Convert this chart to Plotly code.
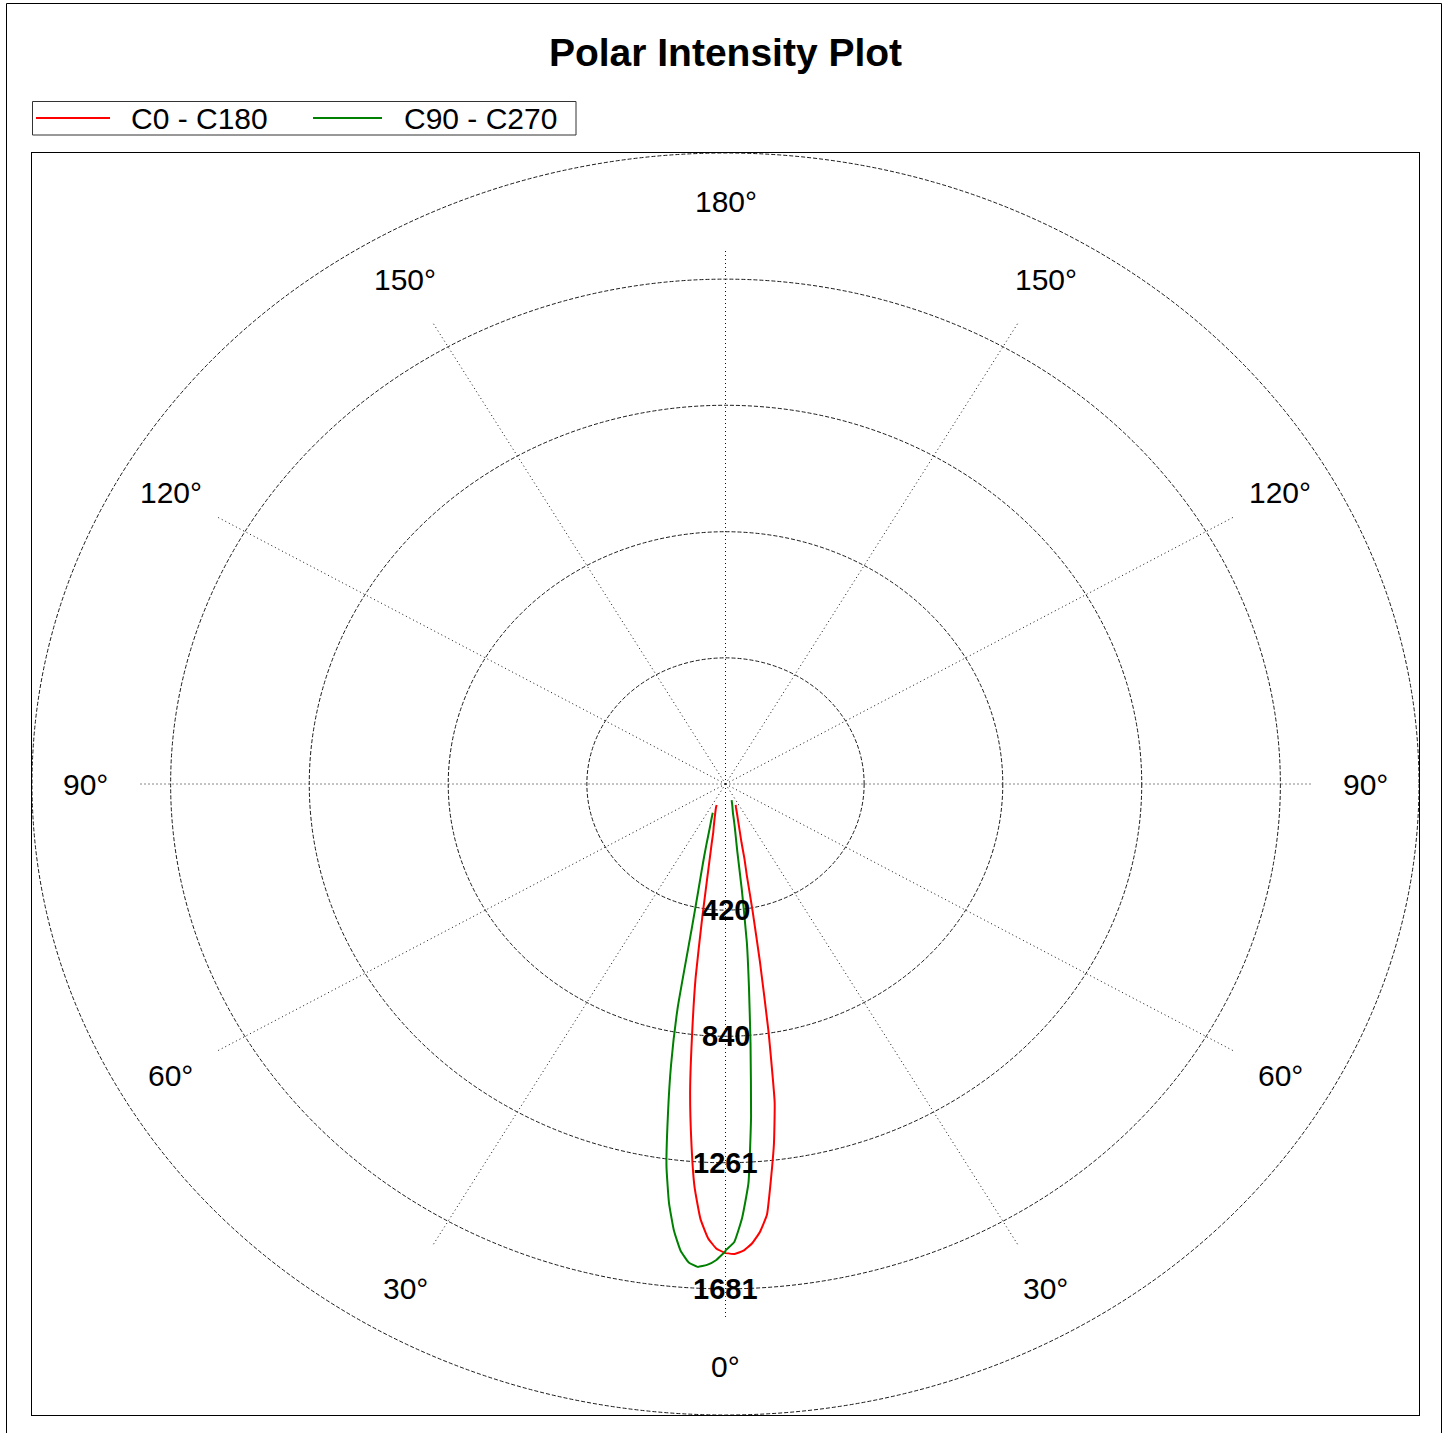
import numpy as np
import plotly.graph_objects as go

# ---------------- data (gamma in degrees, intensity in cd) ----------------
gamma_c0 = [0, 1, 2, 3, 4, 5, 6, 7, 8, 9, 10, 11, 12, 13, 14, 16, 18, 20, 22, 24]
int_c0 = [1562, 1565, 1555, 1532, 1495, 1440, 1320, 1205, 1070, 830, 600, 430, 310, 255, 200, 150, 120, 100, 85, 76]

gamma_c180 = [0, 1, 2, 3, 4, 5, 6, 7, 8, 9, 10, 11, 12, 13, 14, 16, 18, 20, 21]
int_c180 = [1562, 1548, 1513, 1450, 1345, 1190, 1025, 825, 650, 450, 320, 245, 200, 165, 148, 120, 100, 85, 75]

gamma_c90 = [0, 1, 2, 3, 4, 5, 6, 7, 8, 9, 10, 11, 12, 13, 14, 16, 18, 19]
int_c90 = [1553, 1525, 1445, 1330, 1110, 870, 680, 530, 355, 230, 180, 148, 122, 101, 90, 75, 62, 57]

gamma_c270 = [0, 1, 2, 3, 4, 5, 6, 7, 8, 9, 10, 11, 12, 13, 14, 15, 16, 18, 20, 22]
int_c270 = [1555, 1585, 1602, 1610, 1597, 1560, 1495, 1405, 1285, 1115, 950, 760, 490, 370, 300, 250, 210, 155, 125, 103]

ring_values = [420, 840, 1261, 1681, 2101]
ring_labels = ["420", "840", "1261", "1681"]
spoke_angles = [0, 30, 60, 90, 120, 150, 180, 210, 240, 270, 300, 330]
angle_label_values = [0, 30, 60, 90, 120, 150, 180]
angle_label_texts = ["0°", "30°", "60°", "90°", "120°", "150°", "180°"]

series_names = ["C0 - C180", "C90 - C270"]
series_colors = ["#ff0000", "#008000"]

R_MAX = 2101
SPOKE_R = 1775
LABEL_R = 1940
FONT = "Arial, Liberation Sans, sans-serif"

# plot-area pixel geometry (used to convert page pixels into paper coords)
PX_L, PX_R, PX_T, PX_B = 32, 1419, 153, 1415


def px_x(p):
    return (p - PX_L) / (PX_R - PX_L)


def px_y(p):
    return (PX_B - p) / (PX_B - PX_T)


def half_plane(gammas, ints, side):
    g = np.radians(np.asarray(gammas, dtype=float))
    i = np.asarray(ints, dtype=float)
    return side * i * np.sin(g), -i * np.cos(g)


def pair_xy(g_right, i_right, g_left, i_left):
    xr, yr = half_plane(g_right, i_right, 1)
    xl, yl = half_plane(g_left, i_left, -1)
    return np.concatenate([xl[::-1], xr]), np.concatenate([yl[::-1], yr])


fig = go.Figure()

x1, y1 = pair_xy(gamma_c0, int_c0, gamma_c180, int_c180)
x2, y2 = pair_xy(gamma_c90, int_c90, gamma_c270, int_c270)
for (xx, yy), name, col in zip([(x1, y1), (x2, y2)], series_names, series_colors):
    fig.add_trace(go.Scatter(x=xx, y=yy, mode="lines", name=name, showlegend=False,
                             line=dict(color=col, width=2, shape="spline", smoothing=0.4),
                             hoverinfo="skip"))

shapes = []
for r in ring_values:
    shapes.append(dict(type="circle", xref="x", yref="y", x0=-r, x1=r, y0=-r, y1=r,
                       line=dict(color="#1a1a1a", width=1, dash="4px,2px"), layer="below"))
for a in spoke_angles:
    ar = np.radians(a)
    shapes.append(dict(type="line", xref="x", yref="y", x0=0, y0=0,
                       x1=SPOKE_R * np.sin(ar), y1=-SPOKE_R * np.cos(ar),
                       line=dict(color="#111111", width=1, dash="1px,3px"), layer="below"))
# outer figure frame
shapes.append(dict(type="rect", xref="paper", yref="paper",
                   x0=px_x(6.5), x1=px_x(1441.5), y0=px_y(1445), y1=px_y(3.5),
                   line=dict(color="#000000", width=1), fillcolor="rgba(0,0,0,0)"))

# legend (box, line samples, labels)
shapes.append(dict(type="rect", xref="paper", yref="paper",
                   x0=px_x(32.5), x1=px_x(576), y0=px_y(135), y1=px_y(101.5),
                   line=dict(color="#333333", width=1), fillcolor="#ffffff"))
legend_line_px = [(36, 110), (313, 382)]
legend_text_px = [131, 404]
annotations = []
for (l0, l1), tx, name, col in zip(legend_line_px, legend_text_px, series_names, series_colors):
    shapes.append(dict(type="line", xref="paper", yref="paper",
                       x0=px_x(l0), x1=px_x(l1), y0=px_y(118), y1=px_y(118),
                       line=dict(color=col, width=2)))
    annotations.append(dict(x=px_x(tx - 2), y=px_y(118.5), xref="paper", yref="paper", text=name,
                            showarrow=False, xanchor="left", yanchor="middle",
                            font=dict(family=FONT, size=30, color="#000000")))

for a, t in zip(angle_label_values, angle_label_texts):
    sides = [1] if a in (0, 180) else [-1, 1]
    for s in sides:
        ar = np.radians(a)
        annotations.append(dict(x=s * LABEL_R * np.sin(ar), y=-LABEL_R * np.cos(ar),
                                xref="x", yref="y", text=t, showarrow=False,
                                font=dict(family=FONT, size=30, color="#000000"),
                                xanchor="center", yanchor="middle"))
for r, t in zip(ring_values, ring_labels):
    annotations.append(dict(x=0, y=-r, xref="x", yref="y", text="<b>" + t + "</b>",
                            showarrow=False,
                            font=dict(family=FONT, size=29, color="#000000"),
                            xanchor="center", yanchor="middle"))

fig.update_layout(
    width=1452, height=1433,
    margin=dict(l=PX_L, r=1452 - PX_R, t=PX_T, b=1433 - PX_B),
    paper_bgcolor="#ffffff", plot_bgcolor="#ffffff",
    title=dict(text="<b>Polar Intensity Plot</b>", x=0.5, xref="paper",
               y=1 - 52 / 1433, yref="container", yanchor="middle", xanchor="center",
               font=dict(family=FONT, size=39, color="#000000")),
    xaxis=dict(range=[-R_MAX, R_MAX], showgrid=False, zeroline=False, showticklabels=False,
               ticks="", showline=True, mirror=True, linecolor="#000000", linewidth=1,
               fixedrange=True),
    yaxis=dict(range=[-R_MAX, R_MAX], showgrid=False, zeroline=False, showticklabels=False,
               ticks="", showline=True, mirror=True, linecolor="#000000", linewidth=1,
               fixedrange=True),
    shapes=shapes,
    annotations=annotations,
    showlegend=False,
)

fig.write_html(
    "out.html",
    config={"displayModeBar": False},
    post_script="document.body.style.margin='0px';"
                "document.documentElement.style.overflow='hidden';",
)
